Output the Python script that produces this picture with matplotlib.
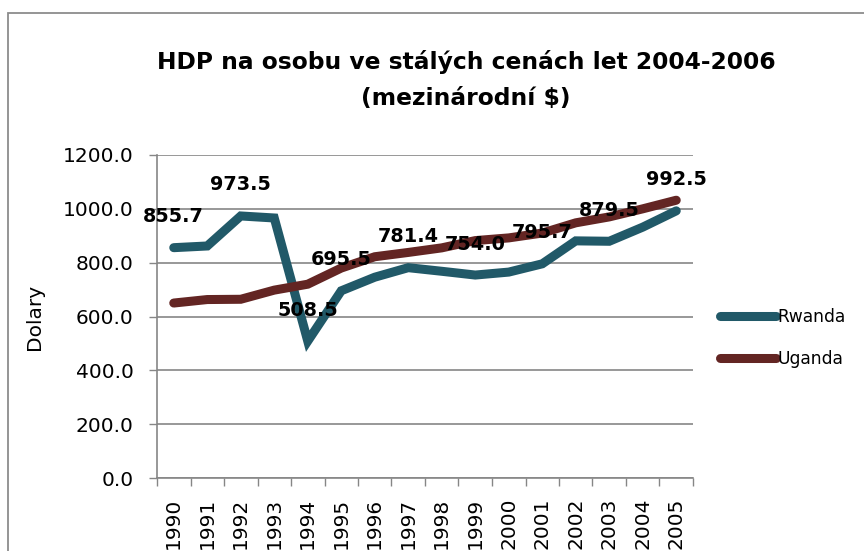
import numpy as np
import matplotlib
matplotlib.use('Agg')
import matplotlib.pyplot as plt
from matplotlib.patches import Rectangle
from matplotlib.ticker import FormatStrFormatter

years = ['1990', '1991', '1992', '1993', '1994', '1995', '1996', '1997',
         '1998', '1999', '2000', '2001', '2002', '2003', '2004', '2005']
rwanda = [855.7, 862, 973.5, 966, 508.5, 695.5, 746, 781.4,
          768, 754.0, 765, 795.7, 881, 879.5, 932, 992.5]
uganda = [650, 663, 664, 698, 720, 780, 822, 838,
          855, 882, 892, 910, 948, 970, 1000, 1032]
labelled = [0, 2, 4, 5, 7, 9, 11, 13, 15]

rwanda_color = '#215968'
uganda_color = '#632523'
grid_color = '#868686'

fig = plt.figure(figsize=(8.64, 5.51), dpi=100)
ax = fig.add_axes([157 / 864, 1 - 478 / 551, (693 - 157) / 864, (478 - 155) / 551])

x = np.arange(len(years))
ax.plot(x, rwanda, color=rwanda_color, lw=6.5, solid_capstyle='round',
        solid_joinstyle='miter', label='Rwanda', zorder=3)
ax.plot(x, uganda, color=uganda_color, lw=6.5, solid_capstyle='round',
        solid_joinstyle='miter', label='Uganda', zorder=3)

# data labels, only on some of the Rwanda points
for i in labelled:
    ax.annotate(f'{rwanda[i]:.1f}', (x[i], rwanda[i]), xytext=(0, 31),
                textcoords='offset pixels', ha='center', va='center',
                fontsize=13.9, fontweight='bold', color='black', zorder=4)

ax.set_xlim(-0.5, len(years) - 0.5)
ax.set_ylim(0, 1200)
ax.set_yticks(np.arange(0, 1201, 200))
ax.yaxis.set_major_formatter(FormatStrFormatter('%.1f'))
ax.set_xticks(x)
ax.set_xticklabels(years, rotation=90, va='top', ha='center')
ax.set_xticks(np.arange(-0.5, len(years), 1), minor=True)
ax.tick_params(axis='x', which='major', length=0, pad=14, labelsize=14.5)
ax.tick_params(axis='x', which='minor', length=6, width=1, color=grid_color)
ax.tick_params(axis='y', length=6, width=1, color=grid_color, pad=11, labelsize=14.5)

ax.grid(axis='y', color=grid_color, lw=1.2)
ax.set_axisbelow(True)
for side in ['top', 'right']:
    ax.spines[side].set_visible(False)
for side in ['left', 'bottom']:
    ax.spines[side].set_color(grid_color)
    ax.spines[side].set_linewidth(1.2)

fig.text(35 / 864, 1 - 317 / 551, 'Dolary', rotation=90, ha='center', va='center', fontsize=14.5)

fig.text(466 / 864, 1 - 80 / 551, 'HDP na osobu ve stálých cenách let 2004-2006\n(mezinárodní $)',
         ha='center', va='center', fontsize=16.8, fontweight='bold', linespacing=1.75)

fig.legend(loc='center left', bbox_to_anchor=(711 / 864, 1 - 338 / 551), frameon=False,
           fontsize=12.3, handlelength=3.3, handletextpad=0.1, labelspacing=1.4, borderpad=0)

# chart-area frame, cut off at the right and bottom edges
fig.patches.append(Rectangle((8 / 864, -0.1), 1.2, 1.1 - 13 / 551, transform=fig.transFigure,
                             fill=False, edgecolor='#8c8c8c', lw=1.3))

fig.savefig('out.png', dpi=100)
